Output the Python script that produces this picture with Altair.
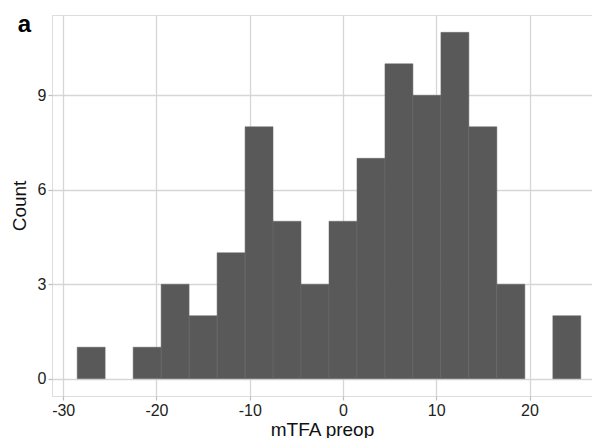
import altair as alt
import pandas as pd

bin_start = [-28.5, -25.5, -22.5, -19.5, -16.5, -13.5, -10.5, -7.5, -4.5, -1.5,
             1.5, 4.5, 7.5, 10.5, 13.5, 16.5, 19.5, 22.5]
counts = [1, 0, 1, 3, 2, 4, 8, 5, 3, 5, 7, 10, 9, 11, 8, 3, 0, 2]
bin_width = 3
x_ticks = [-30, -20, -10, 0, 10, 20]
y_ticks = [0, 3, 6, 9]

df = pd.DataFrame({
    "start": bin_start,
    "end": [s + bin_width for s in bin_start],
    "count": counts,
})
df = df[df["count"] > 0]

FONT = "Liberation Sans"
LABEL_EXPR = "datum.value < 0 ? '-' + abs(datum.value) : '' + datum.value"

common_axis = dict(
    grid=True, domain=False, tickSize=4, tickColor="#bdbdbd", tickWidth=1.2,
    labelPadding=2, labelFontSize=16, labelColor="#222222",
    titleFontSize=19, titleFontWeight="normal", titleColor="#111111",
    gridColor="#d6d6d6", gridWidth=1.3, labelFont=FONT, titleFont=FONT,
    labelExpr=LABEL_EXPR,
)

bars = alt.Chart(df).mark_rect(color="#595959", stroke="#6a6a6a", strokeWidth=0.5).encode(
    x=alt.X("start:Q", scale=alt.Scale(domain=[-31.2, 26.7], nice=False, zero=False),
            axis=alt.Axis(values=x_ticks, title="mTFA preop", titlePadding=2, **common_axis)),
    x2="end:Q",
    y=alt.Y("count:Q", scale=alt.Scale(domain=[-0.55, 11.55], nice=False, zero=False),
            axis=alt.Axis(values=y_ticks, title="Count", titlePadding=8, **common_axis)),
    y2=alt.datum(0),
)

label = alt.Chart(pd.DataFrame({"t": ["a"]})).mark_text(
    font=FONT, fontSize=24, fontWeight="bold", color="#000000",
    align="center", baseline="alphabetic"
).encode(text="t:N", x=alt.value(-27.5), y=alt.value(17))

chart = alt.layer(bars, label).properties(
    width=540, height=381,
    autosize=alt.AutoSizeParams(type="none"),
    padding={"left": 44, "top": 7, "right": 0, "bottom": 42},
).configure_view(stroke=None).configure(background="white")

chart.save("out.html", embed_options={"renderer": "svg", "actions": False})
